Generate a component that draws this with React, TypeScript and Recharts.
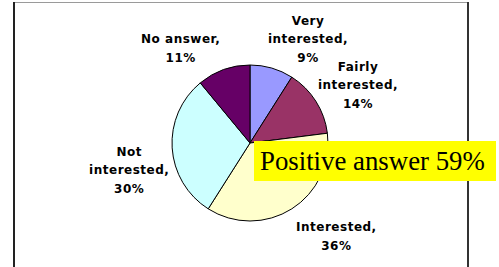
import { PieChart, Pie, Cell } from "recharts";

const categories = ["Very interested", "Fairly interested", "Interested", "Not interested", "No answer"];
const shares = [9, 14, 36, 30, 11];
const colors = ["#9999FF", "#993366", "#FFFFCC", "#CCFFFF", "#660066"];
const calloutText = "Positive answer 59%";

// Excel-style label placement: radial point + small nudge per slice
const labelNudge = [
    [24, 13],
    [5, 7],
    [21, -10],
    [1, 19],
    [-28, 20],
];

const data = categories.map((name, i) => ({ name, value: shares[i] }));
const RAD = Math.PI / 180;
const LINE_H = 18.5;

function wrap(name: string) {
    const words = name.split(" ");
    const lines: string[] = [];
    let cur = "";
    words.forEach((w) => {
        if (cur && (cur + " " + w).length > 10) {
            lines.push(cur);
            cur = w;
        } else {
            cur = cur ? cur + " " + w : w;
        }
    });
    lines.push(cur);
    lines[lines.length - 1] += ",";
    return lines;
}

const renderLabel = (props: any) => {
    const { cx, cy, midAngle, outerRadius, index, name, value } = props;
    const r = outerRadius + 44;
    const x = cx + r * Math.cos(-midAngle * RAD) + labelNudge[index][0];
    const y = cy + r * Math.sin(-midAngle * RAD) + labelNudge[index][1];
    const lines = [...wrap(name), `${value}%`];
    const y0 = y - ((lines.length - 1) * LINE_H) / 2 + 4.5;
    return (
        <text
            x={x}
            y={y0}
            textAnchor="middle"
            fill="#000"
            fontFamily="DejaVu Sans"
            fontWeight="bold"
            fontSize={12}
            letterSpacing={0.5}
        >
            {lines.map((l, i) => (
                <tspan key={i} x={x} y={y0 + i * LINE_H}>
                    {l}
                </tspan>
            ))}
        </text>
    );
};

export default function App() {
    return (
        <div style={{ position: "absolute", left: 0, top: 0, width: 499, height: 267, background: "#fff", overflow: "hidden" }}>
            {/* frame */}
            <div style={{ position: "absolute", left: 13, top: 2, width: 456, height: 0, borderTop: "1px solid #9a9a9a" }} />
            <div style={{ position: "absolute", left: 13, top: 2, width: 0, height: 270, borderLeft: "2px solid #222" }} />
            <div style={{ position: "absolute", left: 467, top: 2, width: 0, height: 270, borderLeft: "2px solid #333" }} />
            <div style={{ position: "absolute", left: 0, top: 0 }}>
                <PieChart width={499} height={267}>
                    <Pie
                        data={data}
                        dataKey="value"
                        nameKey="name"
                        cx={245}
                        cy={138}
                        outerRadius={78}
                        startAngle={90}
                        endAngle={-270}
                        stroke="#000"
                        strokeWidth={1}
                        label={renderLabel}
                        labelLine={false}
                        isAnimationActive={false}
                    >
                        {data.map((d, i) => (
                            <Cell key={d.name} fill={colors[i]} />
                        ))}
                    </Pie>
                </PieChart>
            </div>
            <div
                style={{
                    position: "absolute",
                    left: 254,
                    top: 141,
                    width: 242,
                    height: 40,
                    background: "#FFFF00",
                    fontFamily: "Liberation Serif",
                    fontSize: 26.8,
                    lineHeight: "40px",
                    paddingLeft: 6,
                    boxSizing: "border-box",
                    color: "#000",
                    whiteSpace: "nowrap",
                }}
            >
                {calloutText}
            </div>
        </div>
    );
}
